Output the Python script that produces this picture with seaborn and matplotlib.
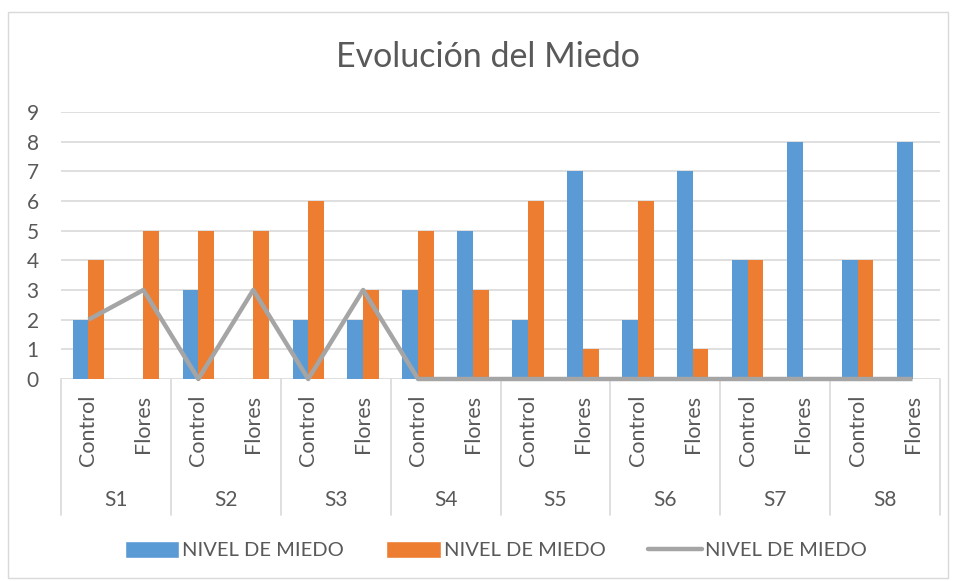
import numpy as np
import pandas as pd
import matplotlib
matplotlib.use("Agg")
import matplotlib.pyplot as plt
import seaborn as sns
from matplotlib.patches import Rectangle, Patch
from matplotlib.lines import Line2D

# -----------------------------
# Data
# -----------------------------
sessions = ["S1", "S2", "S3", "S4", "S5", "S6", "S7", "S8"]
conditions = ["Control", "Flores"]
serie_azul = [2, 0, 3, 0, 2, 2, 3, 5, 2, 7, 2, 7, 4, 8, 4, 8]
serie_naranja = [4, 5, 5, 5, 6, 3, 5, 3, 6, 1, 6, 1, 4, 0, 4, 0]
serie_gris = [2, 3, 0, 3, 0, 3, 0, 0, 0, 0, 0, 0, 0, 0, 0, 0]
legend_label = "NIVEL DE MIEDO"
title = "Evolución del Miedo"

AZUL = "#5B9BD5"
NARANJA = "#ED7D31"
GRIS = "#A5A5A5"
TEXTO = "#595959"
REJILLA = "#D9D9D9"

# -----------------------------
# Prepare data
# -----------------------------
keys = [f"{s}-{c}" for s in sessions for c in conditions]
df = pd.DataFrame({
    "cat": keys * 2,
    "valor": serie_azul + serie_naranja,
    "serie": ["azul"] * len(keys) + ["naranja"] * len(keys),
})

sns.set_theme(style="white")
plt.rcParams["font.family"] = ["Lato", "DejaVu Sans"]

fig = plt.figure(figsize=(9.56, 5.81), dpi=100)
ax = fig.add_axes([61 / 956, 1 - 379 / 581, 879 / 956, 267 / 581])

# grid behind everything
for v in range(1, 10):
    ax.axhline(v, color=REJILLA, lw=1.2, zorder=0)

sns.barplot(data=df, x="cat", y="valor", hue="serie", order=keys,
            palette=[AZUL, NARANJA], saturation=1, width=0.57, linewidth=0,
            legend=False, ax=ax, zorder=2)

sns.lineplot(x=np.arange(len(keys)), y=serie_gris, color=GRIS, lw=3.2,
             ax=ax, zorder=3, solid_joinstyle="round", solid_capstyle="butt",
             clip_on=False)

ax.set_xlim(-0.5, len(keys) - 0.5)
ax.set_ylim(0, 9)
ax.set_yticks(range(0, 10))
ax.set_yticklabels([str(v) for v in range(0, 10)], fontsize=15, color=TEXTO)
ax.tick_params(axis="y", length=0, pad=16)
ax.set_xticks([])
ax.set_xlabel("")
ax.set_ylabel("")
for sp in ax.spines.values():
    sp.set_visible(False)
ax.axhline(0, color=REJILLA, lw=1.2, zorder=1)

# multi-level category axis
trans = ax.get_xaxis_transform()
for b in np.arange(-0.5, len(keys), 2):
    ax.plot([b, b], [0, -0.51], color=REJILLA, lw=1.2, transform=trans,
            clip_on=False)
for i, k in enumerate(keys):
    ax.text(i, -0.06, k.split("-")[1], rotation=90, ha="center", va="top",
            fontsize=15.5, color=TEXTO, transform=trans)
for j, s in enumerate(sessions):
    ax.text(2 * j + 0.5, -0.455, s, ha="center", va="center",
            fontsize=15, color=TEXTO, transform=trans)

fig.text(488 / 956, 1 - 57 / 581, title, ha="center", va="center",
         fontsize=24.5, color=TEXTO)

handles = [Patch(facecolor=AZUL), Patch(facecolor=NARANJA),
           Line2D([0], [0], color=GRIS, lw=3.2)]
fig.legend(handles, [legend_label] * 3, loc="center",
           bbox_to_anchor=(496 / 956, 1 - 550 / 581), ncol=3, frameon=False,
           fontsize=14.5, handlelength=2.7, handleheight=0.9,
           handletextpad=0.15, columnspacing=2.1, labelcolor=TEXTO)

fig.patches.append(Rectangle((8 / 956, 3 / 581), 940 / 956, 566 / 581,
                             transform=fig.transFigure, fill=False,
                             edgecolor=REJILLA, lw=1))

fig.savefig("out.png", dpi=100)
